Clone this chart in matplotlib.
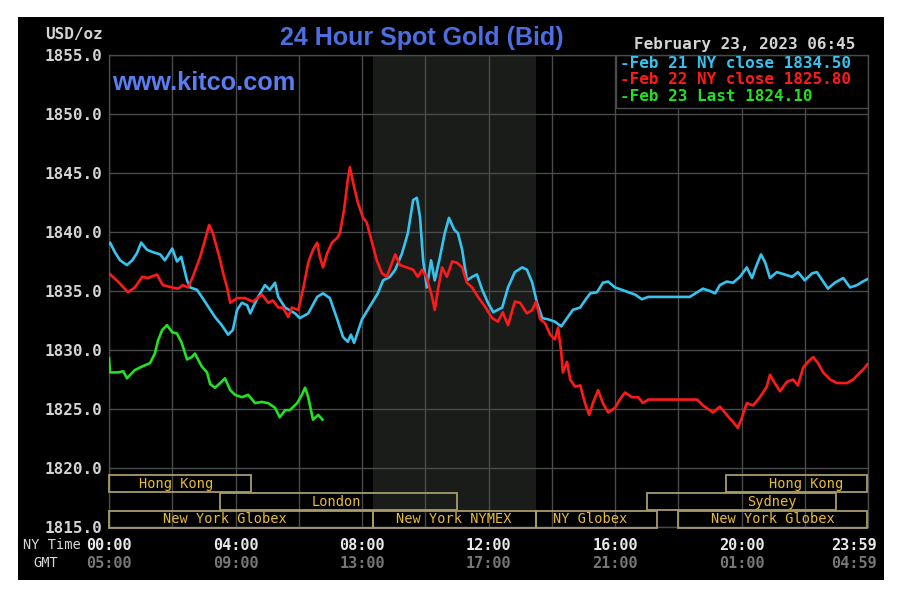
import matplotlib
matplotlib.use("Agg")
import matplotlib.pyplot as plt
from matplotlib.patches import Rectangle
import matplotlib.transforms as mtransforms

# ---------------- data ----------------
cyan_t = [0, 2, 11, 21, 34, 44, 53, 61, 72, 83, 97, 106, 120, 129, 137, 148, 154, 167, 182, 201, 214, 226, 235, 243, 252, 262, 268, 273, 283, 296, 305, 315, 321, 334, 353, 362, 378, 395, 406, 419, 433, 444, 453, 459, 465, 480, 499, 510, 520, 533, 543, 556, 567, 577, 584, 590, 596, 603, 611, 618, 628, 637, 645, 655, 662, 670, 679, 689, 698, 708, 719, 729, 746, 757, 770, 784, 793, 803, 812, 822, 833, 846, 858, 869, 880, 894, 903, 913, 926, 937, 947, 960, 973, 985, 998, 1011, 1023, 1102, 1116, 1127, 1140, 1150, 1159, 1172, 1184, 1197, 1210, 1220, 1227, 1237, 1245, 1254, 1267, 1282, 1296, 1307, 1320, 1334, 1343, 1355, 1364, 1377, 1393, 1406, 1419, 1430, 1439]
cyan_v = [1839.0, 1839.1, 1838.3, 1837.6, 1837.2, 1837.6, 1838.2, 1839.1, 1838.5, 1838.3, 1838.1, 1837.6, 1838.6, 1837.5, 1837.9, 1835.9, 1835.3, 1835.1, 1834.1, 1832.8, 1832.1, 1831.3, 1831.7, 1833.4, 1834.0, 1833.8, 1833.1, 1833.6, 1834.5, 1835.5, 1835.1, 1835.7, 1834.5, 1833.6, 1833.1, 1832.7, 1833.1, 1834.5, 1834.8, 1834.4, 1832.6, 1831.1, 1830.7, 1831.3, 1830.6, 1832.6, 1834.0, 1834.8, 1835.9, 1836.2, 1836.8, 1838.2, 1839.9, 1842.7, 1842.9, 1841.3, 1837.6, 1835.3, 1837.6, 1835.9, 1837.9, 1839.9, 1841.2, 1840.2, 1839.9, 1838.5, 1835.9, 1836.2, 1836.4, 1835.1, 1834.0, 1833.2, 1833.6, 1835.3, 1836.6, 1837.0, 1836.8, 1835.7, 1834.0, 1832.7, 1832.6, 1832.4, 1832.0, 1832.7, 1833.4, 1833.6, 1834.2, 1834.8, 1834.9, 1835.7, 1835.8, 1835.3, 1835.1, 1834.9, 1834.7, 1834.3, 1834.5, 1834.5, 1834.9, 1835.2, 1835.0, 1834.8, 1835.5, 1835.8, 1835.7, 1836.2, 1837.0, 1836.1, 1837.0, 1838.1, 1837.4, 1836.1, 1836.6, 1836.4, 1836.2, 1836.6, 1835.9, 1836.5, 1836.6, 1835.8, 1835.2, 1835.7, 1836.1, 1835.3, 1835.5, 1835.8, 1836.0]

red_t = [0, 17, 36, 49, 63, 74, 91, 102, 120, 131, 140, 150, 159, 173, 182, 190, 197, 211, 216, 224, 230, 243, 258, 273, 290, 302, 311, 321, 330, 340, 347, 359, 368, 378, 387, 395, 400, 406, 414, 423, 433, 438, 446, 453, 457, 463, 472, 482, 489, 499, 508, 518, 527, 537, 543, 552, 565, 577, 586, 594, 603, 613, 618, 624, 632, 641, 651, 660, 670, 679, 689, 700, 713, 727, 738, 747, 757, 770, 780, 793, 803, 810, 818, 827, 837, 846, 852, 858, 861, 869, 875, 884, 894, 903, 911, 918, 928, 937, 947, 960, 969, 979, 992, 1004, 1013, 1023, 1116, 1127, 1146, 1159, 1172, 1184, 1193, 1201, 1210, 1222, 1235, 1248, 1254, 1263, 1273, 1286, 1298, 1307, 1317, 1326, 1336, 1345, 1355, 1368, 1381, 1400, 1412, 1425, 1434, 1439]
red_v = [1836.5, 1835.8, 1834.9, 1835.3, 1836.2, 1836.1, 1836.4, 1835.5, 1835.3, 1835.2, 1835.5, 1835.3, 1836.2, 1837.9, 1839.3, 1840.6, 1839.9, 1837.6, 1836.6, 1835.3, 1834.0, 1834.4, 1834.4, 1834.1, 1834.7, 1834.0, 1834.2, 1833.6, 1833.6, 1832.8, 1833.6, 1833.4, 1835.1, 1837.4, 1838.5, 1839.1, 1837.9, 1837.0, 1838.2, 1839.1, 1839.5, 1839.9, 1841.9, 1844.4, 1845.5, 1844.2, 1842.5, 1841.2, 1840.8, 1839.1, 1837.6, 1836.5, 1836.2, 1837.4, 1838.1, 1837.2, 1837.0, 1836.8, 1836.2, 1836.8, 1836.1, 1834.5, 1833.4, 1835.1, 1837.0, 1836.2, 1837.5, 1837.4, 1837.0, 1835.7, 1835.3, 1834.5, 1833.7, 1832.7, 1832.4, 1833.2, 1832.1, 1834.1, 1834.0, 1833.1, 1833.4, 1834.1, 1832.6, 1832.3, 1831.3, 1830.9, 1831.9, 1829.8, 1828.1, 1829.0, 1827.5, 1826.9, 1827.0, 1825.5, 1824.5, 1825.5, 1826.6, 1825.5, 1824.7, 1825.1, 1825.8, 1826.4, 1826.0, 1826.0, 1825.5, 1825.8, 1825.8, 1825.3, 1824.7, 1825.2, 1824.5, 1823.9, 1823.4, 1824.3, 1825.5, 1825.3, 1826.0, 1826.9, 1827.9, 1827.2, 1826.5, 1827.3, 1827.5, 1827.0, 1828.5, 1829.0, 1829.4, 1828.9, 1828.1, 1827.5, 1827.2, 1827.2, 1827.5, 1828.1, 1828.5, 1828.8]

green_t = [0, 2, 17, 27, 34, 49, 63, 78, 87, 93, 101, 110, 120, 129, 138, 148, 157, 163, 176, 186, 192, 201, 211, 220, 230, 239, 252, 264, 277, 290, 302, 315, 324, 334, 343, 357, 366, 372, 378, 387, 397, 405]
green_v = [1829.3, 1828.1, 1828.1, 1828.2, 1827.6, 1828.3, 1828.6, 1828.9, 1829.7, 1830.8, 1831.7, 1832.1, 1831.5, 1831.4, 1830.6, 1829.2, 1829.4, 1829.7, 1828.6, 1828.1, 1827.1, 1826.8, 1827.2, 1827.6, 1826.6, 1826.2, 1826.0, 1826.2, 1825.5, 1825.6, 1825.5, 1825.1, 1824.3, 1824.9, 1824.9, 1825.5, 1826.2, 1826.8, 1826.0, 1824.1, 1824.5, 1824.1]

legend_labels = ["-Feb 21 NY close 1834.50", "-Feb 22 NY close 1825.80", "-Feb 23 Last 1824.10"]
title = "24 Hour Spot Gold (Bid)"
timestamp = "February 23, 2023 06:45"

y_ticks = [1815, 1820, 1825, 1830, 1835, 1840, 1845, 1850, 1855]
ny_tick_min = [0, 240, 480, 720, 960, 1200, 1439]
ny_tick_labels = ["00:00", "04:00", "08:00", "12:00", "16:00", "20:00", "23:59"]
gmt_tick_labels = ["05:00", "09:00", "13:00", "17:00", "21:00", "01:00", "04:59"]

nymex_span = (500, 810)

# sessions: (label, start_min, end_min, row)  row 0 = top
session_names = ["Hong Kong", "London", "New York Globex", "New York NYMEX", "NY Globex",
                 "Sydney", "New York Globex", "Hong Kong"]
session_start = [0, 210, 0, 500, 810, 1020, 1080, 1170]
session_end = [270, 660, 500, 810, 1040, 1380, 1439, 1439]
session_row = [0, 1, 2, 2, 2, 1, 2, 0]

# ---------------- layout / style ----------------
W, H = 902, 601
label_x_px = [176, 336, 225, 454, 590, 772, 773, 806]   # label centres in pixels
row_y = [(1817.95, 1819.4), (1816.42, 1817.87), (1814.95, 1816.35)]

def fx(x): return x / W
def fy(y): return 1 - y / H

CYAN, RED, GREEN = "#35c4f0", "#ff1a1a", "#22e022"
GRID = "#4a4a4a"
GOLD = "#e6bb3a"
BOXEDGE = "#a89c6c"
MONO = "DejaVu Sans Mono"

fig = plt.figure(figsize=(W / 100, H / 100), dpi=100, facecolor="white")
fig.patches.append(Rectangle((fx(18), fy(580)), fx(884) - fx(18), fy(17) - fy(580),
                             transform=fig.transFigure, facecolor="black",
                             edgecolor="none", zorder=-10))

ax = fig.add_axes([fx(109), fy(527), fx(868) - fx(109), fy(55) - fy(527)])
ax.set_zorder(1)
ax.set_facecolor("black")
ax.set_xlim(0, 1440)
ax.set_ylim(1815, 1855)

ax.set_xticks(range(0, 1441, 120))
ax.set_yticks(y_ticks)
ax.grid(True, color=GRID, lw=1.0, zorder=1.5)
for s in ax.spines.values():
    s.set_color(GRID)
    s.set_linewidth(1.0)
ax.tick_params(axis="x", length=0, labelbottom=False)
ax.tick_params(axis="y", length=0, pad=4.5, labelcolor="#d4d4d4")
ax.set_yticklabels([f"{v:.1f}" for v in y_ticks])
for lbl in ax.get_yticklabels():
    lbl.set_fontfamily(MONO)
    lbl.set_fontweight("bold")
    lbl.set_fontsize(11.5)

ax.axvspan(*nymex_span, color="#1a1c1a", zorder=0.8, lw=0)

# legend box
ax.add_patch(Rectangle((962, 1850.5), 1440 - 962, 4.5, facecolor="black",
                       edgecolor=GRID, lw=1.0, zorder=2.5))
leg_colors = [CYAN, RED, GREEN]
leg_y = [1854.3, 1852.9, 1851.45]
for lab, c, yy in zip(legend_labels, leg_colors, leg_y):
    ax.text(969, yy, lab, color=c, fontsize=11.5, fontfamily=MONO,
            fontweight="bold", va="center", ha="left", zorder=3)

# price lines
ax.plot(cyan_t, cyan_v, color=CYAN, lw=1.9, zorder=4)
ax.plot(red_t, red_v, color=RED, lw=1.9, zorder=5)
ax.plot(green_t, green_v, color=GREEN, lw=1.9, zorder=6)

# session boxes
blend = mtransforms.blended_transform_factory(fig.transFigure, ax.transData)
for name, s0, s1, r, lx in zip(session_names, session_start, session_end, session_row, label_x_px):
    y0, y1 = row_y[r]
    if (s0, s1) == nymex_span:
        ax.add_patch(Rectangle((s0, y0), s1 - s0, y1 - y0, facecolor="black",
                               edgecolor="none", zorder=1.0))
    ax.add_patch(Rectangle((s0, y0), s1 - s0, y1 - y0, facecolor="none",
                           edgecolor=BOXEDGE, lw=1.3, zorder=3, clip_on=False))
    ax.text(fx(lx), (y0 + y1) / 2, name, transform=blend, color=GOLD,
            fontsize=9.8, fontfamily=MONO, ha="center", va="center", zorder=3.5)

# x labels
xb = mtransforms.blended_transform_factory(ax.transData, fig.transFigure)
for m, l1, l2 in zip(ny_tick_min, ny_tick_labels, gmt_tick_labels):
    if m == ny_tick_min[-1]:
        off = mtransforms.offset_copy(xb, fig=fig, x=9, y=0, units="dots")
        ha = "right"
    else:
        off = xb
        ha = "center"
    ax.text(m, fy(545), l1, transform=off, ha=ha, va="center", color="#e8e8e8",
            fontsize=11, fontfamily=MONO, fontweight="bold", clip_on=False)
    ax.text(m, fy(563), l2, transform=off, ha=ha, va="center", color="#767676",
            fontsize=11, fontfamily=MONO, fontweight="bold", clip_on=False)

fig.text(fx(81), fy(545), "NY Time", ha="right", va="center", color="#d8d8d8",
         fontsize=9.8, fontfamily=MONO)
fig.text(fx(46), fy(563), "GMT", ha="center", va="center", color="#d8d8d8",
         fontsize=9.8, fontfamily=MONO)
fig.text(fx(103), fy(35), "USD/oz", ha="right", va="center", color="#d4d4d4",
         fontsize=11.5, fontfamily=MONO, fontweight="bold")

fig.text(fx(422), fy(38), title, ha="center", va="center", color="#4d6ee2",
         fontsize=18, fontfamily="Liberation Sans", fontweight="bold")
fig.text(fx(112), fy(83), "www.kitco.com", ha="left", va="center", color="#5a7ef2",
         fontsize=18.2, fontfamily="Liberation Sans", fontweight="bold")
fig.text(fx(855), fy(45), timestamp, ha="right", va="center", color="#d4d4d4",
         fontsize=11.5, fontfamily=MONO, fontweight="bold")

fig.savefig("out.png", dpi=100, facecolor="white")
